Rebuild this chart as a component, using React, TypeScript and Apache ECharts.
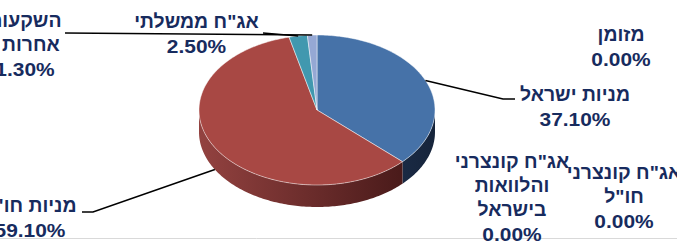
import React, { useEffect, useRef } from 'react';
import * as echarts from 'echarts';

// ---- data ----
const categories = [
  'מניות ישראל',
  'מניות חו"ל',
  'אג"ח ממשלתי',
  'השקעות אחרות',
  'מזומן',
  'אג"ח קונצרני והלוואות בישראל',
  'אג"ח קונצרני חו"ל',
];
const values = [37.1, 59.1, 2.5, 1.3, 0, 0, 0];
// label text as wrapped in the picture
const labelNames = [
  'מניות ישראל',
  'מניות חו"ל',
  'אג"ח ממשלתי',
  'השקעות\n) אחרות',
  'מזומן',
  'אג"ח קונצרני\nוהלוואות\nבישראל',
  'אג"ח קונצרני\nחו"ל',
];

// ---- styles / layout ----
const topColors = ['#4672A8', '#A84844', '#4198AF', '#95A8D4', '#8064A2', '#F79646', '#4BACC6'];
const sideStops: string[][] = [
  ['#34507A', '#16243B'],
  ['#934240', '#3E1414'],
  ['#2E6C7C', '#1C4450'],
  ['#6A7896', '#3E4760'],
  ['#5A4672', '#322740'],
  ['#A8642E', '#5E3818'],
  ['#357888', '#1E4450'],
];
const labelLayout: { x: number; y: number; leader?: number[][] }[] = [
  { x: 575, y: 83, leader: [[503, 99], [515, 99]] },
  { x: 30, y: 194, leader: [[93, 212], [82, 212]] },
  { x: 196.5, y: 10, leader: [[263, 33]] },
  { x: 25, y: 9, leader: [[65, 33]] },
  { x: 621, y: 23 },
  { x: 512, y: 150 },
  { x: 624, y: 161 },
];
const CX = 317, CY = 110, RX = 118, RY = 75, DEPTH = 22;
const FONT_SIZE = 19, LINE_H = 24, SCALE_NAME = 1.02, SCALE_NUM = 1.1;
const TEXT_COLOR = '#172B5E';

function pt(deg: number, dy = 0): number[] {
  const r = (deg * Math.PI) / 180;
  return [CX + RX * Math.sin(r), CY - RY * Math.cos(r) + dy];
}
function arc(a: number, b: number, dy = 0): number[][] {
  const pts: number[][] = [];
  const n = Math.max(2, Math.ceil(b - a));
  for (let i = 0; i <= n; i++) pts.push(pt(a + ((b - a) * i) / n, dy));
  return pts;
}

const textStyle = {
  fill: TEXT_COLOR,
  fontSize: FONT_SIZE,
  fontWeight: 'bold',
  fontFamily: '"Liberation Sans", Arial, sans-serif',
  lineHeight: LINE_H,
  align: 'center',
  verticalAlign: 'top',
};

export default function App() {
  const ref = useRef<HTMLDivElement>(null);
  useEffect(() => {
    if (!ref.current) return;
    const chart = echarts.init(ref.current, null, { renderer: 'svg' });
    const total = values.reduce((s, v) => s + v, 0);
    const option: any = {
      animation: false,
      backgroundColor: '#ffffff',
      graphic: [
        {
          type: 'line',
          shape: { x1: 0, y1: 238.5, x2: 677, y2: 238.5 },
          style: { stroke: '#D9D9D9', lineWidth: 1 },
          z: 0,
        },
      ],
      series: [
        {
          type: 'custom',
          coordinateSystem: 'none',
          data: values.map((v, i) => ({ name: categories[i], value: v })),
          renderItem: (params: any, api: any) => {
            const i = params.dataIndex;
            const v = api.value(0) as number;
            let before = 0;
            for (let j = 0; j < i; j++) before += values[j];
            const a = (before / total) * 360;
            const b = ((before + v) / total) * 360;
            const children: any[] = [];
            if (v > 0) {
              const lo = Math.max(a, 90), hi = Math.min(b, 270);
              if (lo < hi) {
                children.push({
                  type: 'polygon',
                  shape: { points: [...arc(lo, hi), ...arc(lo, hi, DEPTH).reverse()] },
                  style: {
                    fill: new echarts.graphic.LinearGradient(
                      CX - RX, 0, CX + RX, 0,
                      [
                        { offset: 0, color: sideStops[i][0] },
                        { offset: 1, color: sideStops[i][1] },
                      ],
                      true
                    ),
                  },
                });
              }
              children.push({
                type: 'polygon',
                shape: { points: [[CX, CY], ...arc(a, b)] },
                style: { fill: topColors[i], stroke: 'rgba(255,255,255,0.6)', lineWidth: 0.8 },
              });
            }
            const lay = labelLayout[i];
            if (lay.leader) {
              const mid = (a + b) / 2;
              const front = mid > 90 && mid < 270;
              const start = pt(mid, front ? DEPTH : 0);
              children.push({
                type: 'polyline',
                shape: { points: [start, ...lay.leader] },
                style: { stroke: '#000', lineWidth: 1.5, fill: null },
              });
            }
            const name = labelNames[i];
            const nLines = name.split('\n').length;
            children.push({
              type: 'text',
              x: lay.x,
              y: lay.y,
              scaleX: SCALE_NAME,
              style: { ...textStyle, text: name },
            });
            children.push({
              type: 'text',
              x: lay.x,
              y: lay.y + nLines * LINE_H,
              scaleX: SCALE_NUM,
              style: { ...textStyle, text: v.toFixed(2) + '%' },
            });
            return { type: 'group', children };
          },
        },
      ],
    };
    chart.setOption(option);
    return () => chart.dispose();
  }, []);
  return (
    <div
      ref={ref}
      style={{ position: 'fixed', left: 0, top: 0, width: 677, height: 246 }}
    />
  );
}
